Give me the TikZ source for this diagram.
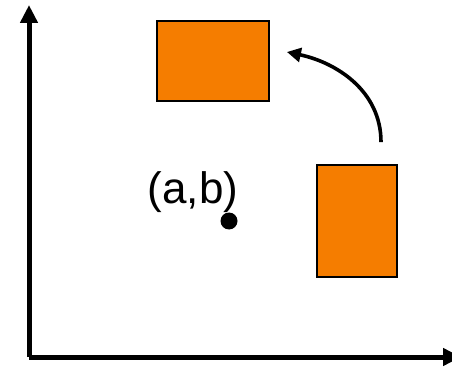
\documentclass[tikz,border=0pt]{standalone}
\usepackage{fontspec}
\setmainfont{Liberation Sans}
\usepackage{xcolor}
\usetikzlibrary{arrows.meta, positioning, calc}

\definecolor{boxorange}{RGB}{245,125,0}

\begin{document}
\begin{tikzpicture}[
    x=1pt, y=1pt,
    box/.style={rectangle, draw=black, line width=1.8pt, fill=boxorange, inner sep=0pt},
    axis/.style={draw=black, line width=5pt, -{Triangle[length=18pt, width=17pt]}},
    turn/.style={draw=black, line width=3.6pt, -{Triangle[length=14pt, width=14pt]}},
    label/.style={font=\fontsize{44}{50}\selectfont, inner sep=0pt}
]
\useasboundingbox (0,0) rectangle (452,367);

% Axes
\coordinate (origin) at (29,10);
\coordinate (ytip) at (29,362);
\coordinate (xtip) at (461,10);
\draw[axis] (origin) -- (ytip);
\draw[axis] (origin) -- (xtip);

% Nodes
\node[box, minimum width=80pt, minimum height=112pt] (orig) at (357,146) {};
\node[box, minimum width=112pt, minimum height=80pt] (rotated) at (213,306) {};
\node[circle, fill=black, inner sep=0pt, minimum size=17pt] (pivot) at (229,146) {};
\node[label, anchor=base] (pivotlabel) at (193,163) {(a,b)};

% Arrows
\coordinate (turnstart) at ([shift={(24,22)}]orig.north);
\coordinate (turnend) at ([shift={(17,9)}]rotated.east);
\draw[turn] (turnstart) to[out=90, in=-12] (turnend);

\end{tikzpicture}
\end{document}
